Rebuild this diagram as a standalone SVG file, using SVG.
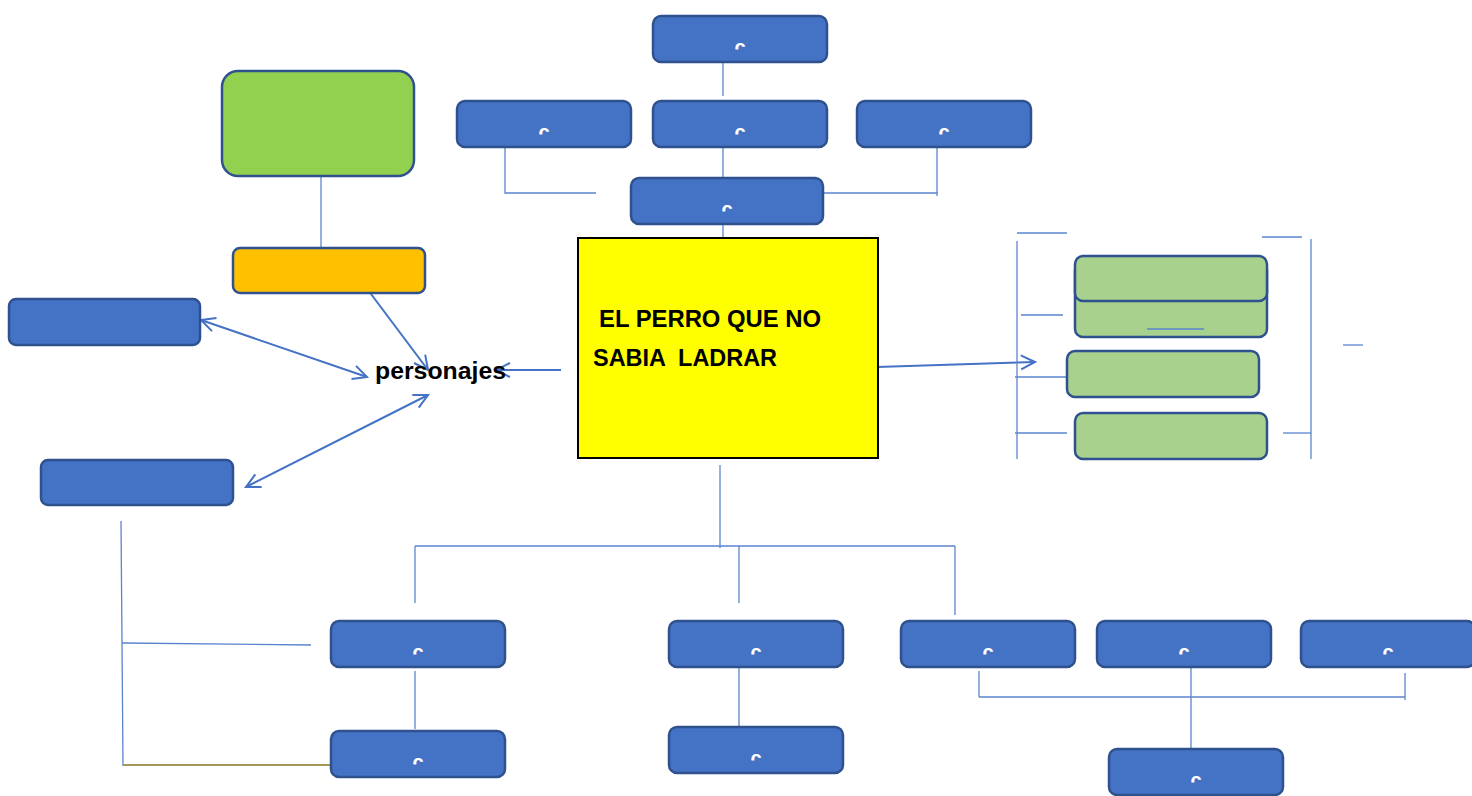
<svg xmlns="http://www.w3.org/2000/svg" width="1472" height="796" viewBox="0 0 1472 796">
<style>
.blue{fill:#4472C4;stroke:#2F528F;stroke-width:2.5}
.lg{fill:#A9D18E;stroke:#2F528F;stroke-width:2.5}
.c{fill:#fff;font-family:"Liberation Sans",Arial,sans-serif;font-size:20px;font-weight:bold;text-anchor:middle}
.ln{stroke:#5B84CF;stroke-width:1.3;fill:none}
.ar{stroke:#4472C4;stroke-width:2;fill:none}
.t{font-family:"Liberation Sans",Arial,sans-serif;font-weight:bold;fill:#000;white-space:pre}
</style>
<defs>
<clipPath id="cc"><rect x="0" y="0" width="175" height="33.5"/></clipPath>
<marker id="ah" viewBox="0 0 20 20" refX="18" refY="10" markerWidth="20" markerHeight="20" markerUnits="userSpaceOnUse" orient="auto-start-reverse">
<path d="M4,3 L18,10 L4,17" fill="none" stroke="#4472C4" stroke-width="2"/>
</marker>
</defs>
<rect width="1472" height="796" fill="#fff"/>

<g id="connectors">
<line class="ln" x1="723" y1="62" x2="723" y2="96"/>
<line class="ln" x1="723" y1="147" x2="723" y2="178"/>
<polyline class="ln" points="505,147 505,193 596,193"/>
<polyline class="ln" points="823,193 937,193 937,196"/>
<line class="ln" x1="937" y1="147" x2="937" y2="193"/>
<line class="ln" x1="723" y1="224" x2="723" y2="265"/>
<line class="ln" x1="321" y1="176" x2="321" y2="263"/>
<line class="ar" x1="371" y1="294" x2="428" y2="370" marker-end="url(#ah)"/>
<line class="ar" x1="201" y1="320" x2="367" y2="377" marker-start="url(#ah)" marker-end="url(#ah)"/>
<line class="ar" x1="246" y1="487" x2="428" y2="395" marker-start="url(#ah)" marker-end="url(#ah)"/>
<line class="ar" x1="561" y1="370" x2="496" y2="370" marker-end="url(#ah)"/>
<line class="ar" x1="877" y1="367" x2="1035" y2="362" marker-end="url(#ah)"/>
<line class="ln" x1="1017" y1="241" x2="1017" y2="459"/>
<line class="ln" x1="1017" y1="233" x2="1067" y2="233"/>
<line class="ln" x1="1262" y1="237" x2="1302" y2="237"/>
<line class="ln" x1="1311" y1="239" x2="1311" y2="459"/>
<line class="ln" x1="1021" y1="315" x2="1063" y2="315"/>
<line class="ln" x1="1015" y1="377" x2="1067" y2="377"/>
<line class="ln" x1="1015" y1="433" x2="1067" y2="433"/>
<line class="ln" x1="1283" y1="433" x2="1311" y2="433"/>
<line class="ln" x1="1343" y1="345" x2="1363" y2="345"/>
<line class="ln" x1="720" y1="465" x2="720" y2="548"/>
<line class="ln" x1="415" y1="546" x2="955" y2="546"/>
<line class="ln" x1="415" y1="546" x2="415" y2="603"/>
<line class="ln" x1="739" y1="546" x2="739" y2="603"/>
<line class="ln" x1="955" y1="546" x2="955" y2="615"/>
<line class="ln" x1="415" y1="671" x2="415" y2="729"/>
<line class="ln" x1="739" y1="667" x2="739" y2="727"/>
<line class="ln" x1="979" y1="671" x2="979" y2="697"/>
<line class="ln" x1="979" y1="697" x2="1405" y2="697"/>
<line class="ln" x1="1405" y1="673" x2="1405" y2="700"/>
<line class="ln" x1="1191" y1="667" x2="1191" y2="748"/>
<line class="ln" x1="121" y1="521" x2="123" y2="766"/>
<line class="ln" x1="122" y1="643" x2="311" y2="645"/>
<line x1="123" y1="765" x2="331" y2="765" stroke="#A5965A" stroke-width="2"/>
</g>

<g id="n-top"><g transform="translate(653,16)"><rect class="blue" width="174" height="46" rx="8"/><text class="c" x="87" y="37.5" clip-path="url(#cc)">c</text></g></g>
<g id="n-r2a"><g transform="translate(457,101)"><rect class="blue" width="174" height="46" rx="8"/><text class="c" x="87" y="37.5" clip-path="url(#cc)">c</text></g></g>
<g id="n-r2b"><g transform="translate(653,101)"><rect class="blue" width="174" height="46" rx="8"/><text class="c" x="87" y="37.5" clip-path="url(#cc)">c</text></g></g>
<g id="n-r2c"><g transform="translate(857,101)"><rect class="blue" width="174" height="46" rx="8"/><text class="c" x="87" y="37.5" clip-path="url(#cc)">c</text></g></g>
<g id="n-r3"><g transform="translate(631,178)"><rect class="blue" width="192" height="46" rx="8"/><text class="c" x="96" y="37.5" clip-path="url(#cc)">c</text></g></g>

<g id="n-title">
<rect x="578" y="238" width="300" height="220" fill="#FFFF00" stroke="#000" stroke-width="2"/>
<text class="t" x="599" y="327" font-size="24" textLength="222" lengthAdjust="spacingAndGlyphs">EL PERRO QUE NO</text>
<text class="t" x="593" y="366" font-size="24" textLength="184" lengthAdjust="spacingAndGlyphs" xml:space="preserve">SABIA  LADRAR</text>
</g>

<g id="n-green"><rect x="222" y="71" width="192" height="105" rx="16" fill="#92D050" stroke="#2F528F" stroke-width="2.5"/></g>
<g id="n-orange"><rect x="233" y="248" width="192" height="45" rx="7" fill="#FFC000" stroke="#2F528F" stroke-width="2.5"/></g>
<g id="n-left1"><rect class="blue" x="9" y="299" width="191" height="46" rx="7"/></g>
<g id="n-left2"><rect class="blue" x="41" y="460" width="192" height="45" rx="7"/></g>
<g id="n-personajes"><text class="t" x="375" y="379" font-size="23" textLength="131" lengthAdjust="spacingAndGlyphs">personajes</text></g>

<g id="n-rg1">
<rect class="lg" x="1075" y="262" width="192" height="75" rx="8"/>
<line class="ln" x1="1147" y1="329" x2="1204" y2="329"/>
<rect class="lg" x="1075" y="256" width="192" height="45" rx="8"/>
</g>
<g id="n-rg2"><rect class="lg" x="1067" y="351" width="192" height="46" rx="8"/></g>
<g id="n-rg3"><rect class="lg" x="1075" y="413" width="192" height="46" rx="8"/></g>

<g id="n-b1"><g transform="translate(331,621)"><rect class="blue" width="174" height="46" rx="8"/><text class="c" x="87" y="37.5" clip-path="url(#cc)">c</text></g></g>
<g id="n-b2"><g transform="translate(669,621)"><rect class="blue" width="174" height="46" rx="8"/><text class="c" x="87" y="37.5" clip-path="url(#cc)">c</text></g></g>
<g id="n-b3"><g transform="translate(901,621)"><rect class="blue" width="174" height="46" rx="8"/><text class="c" x="87" y="37.5" clip-path="url(#cc)">c</text></g></g>
<g id="n-b4"><g transform="translate(1097,621)"><rect class="blue" width="174" height="46" rx="8"/><text class="c" x="87" y="37.5" clip-path="url(#cc)">c</text></g></g>
<g id="n-b5"><g transform="translate(1301,621)"><rect class="blue" width="174" height="46" rx="8"/><text class="c" x="87" y="37.5" clip-path="url(#cc)">c</text></g></g>
<g id="n-b6"><g transform="translate(331,731)"><rect class="blue" width="174" height="46" rx="8"/><text class="c" x="87" y="37.5" clip-path="url(#cc)">c</text></g></g>
<g id="n-b7"><g transform="translate(669,727)"><rect class="blue" width="174" height="46" rx="8"/><text class="c" x="87" y="37.5" clip-path="url(#cc)">c</text></g></g>
<g id="n-b8"><g transform="translate(1109,749)"><rect class="blue" width="174" height="46" rx="8"/><text class="c" x="87" y="37.5" clip-path="url(#cc)">c</text></g></g>
</svg>
